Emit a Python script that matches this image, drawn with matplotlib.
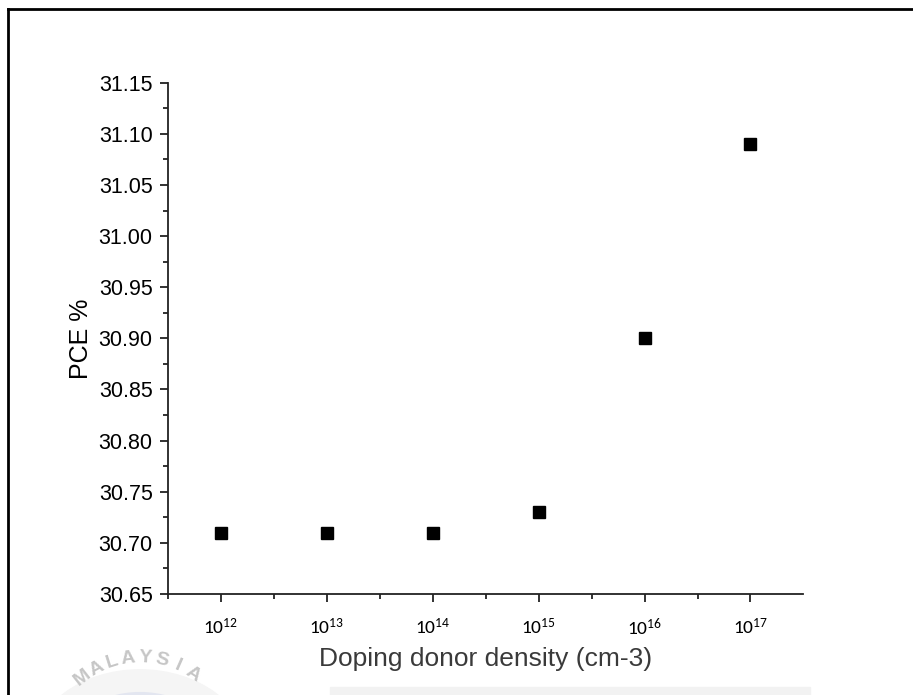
import numpy as np
import matplotlib.pyplot as plt
from matplotlib.lines import Line2D
from matplotlib.patches import Circle, Rectangle

# 数据
exponents = [12, 13, 14, 15, 16, 17]
pce = [30.71, 30.71, 30.71, 30.73, 30.90, 31.09]
tick_labels = ['$10^{12}$', '$10^{13}$', '$10^{14}$', '$10^{15}$', '$10^{16}$', '$10^{17}$']

plt.rcParams['font.family'] = ['Liberation Sans', 'DejaVu Sans']
plt.rcParams['mathtext.fontset'] = 'custom'
plt.rcParams['mathtext.rm'] = 'Carlito'
plt.rcParams['mathtext.it'] = 'Carlito'

fig = plt.figure(figsize=(9.13, 6.95), dpi=100)
ax = fig.add_axes([0.184, 0.1453, 0.696, 0.7357])

density = [10.0 ** e for e in exponents]
ax.plot(density, pce, 's', color='black', markersize=8.5, linestyle='none', zorder=3)

ax.set_xscale('log')
ax.set_xlim(10 ** 11.5, 10 ** 17.5)
ax.set_xticks(density)
ax.set_xticklabels(tick_labels, fontsize=14)
ax.set_xticks([10 ** (e + 0.5) for e in range(11, 17)], minor=True)
ax.xaxis.set_minor_formatter(plt.NullFormatter())

yt = np.arange(30.65, 31.151, 0.05)
ax.set_ylim(30.65, 31.15)
ax.set_yticks(yt)
ax.set_yticklabels([f'{v:.2f}' for v in yt], fontsize=15.5)
ax.set_yticks(np.arange(30.675, 31.15, 0.05), minor=True)

for s in ['top', 'right']:
    ax.spines[s].set_visible(False)
for s in ['left', 'bottom']:
    ax.spines[s].set_linewidth(1.3)
    ax.spines[s].set_color('#222222')

ax.tick_params(axis='both', which='major', direction='out', length=6, width=1.3, color='#222222')
ax.tick_params(axis='both', which='minor', direction='out', length=3.5, width=1.3, color='#222222')
ax.tick_params(axis='x', which='major', pad=11)
ax.tick_params(axis='y', which='major', pad=5)

ax.set_xlabel('Doping donor density (cm-3)', fontsize=19, color='#3a3a3a', labelpad=6)
ax.set_ylabel('PCE %', fontsize=18, labelpad=4)

# 外框（图片边框）
fig.add_artist(Line2D([8 / 913, 8 / 913], [0, 1 - 9 / 695], transform=fig.transFigure, color='black', lw=2))
fig.add_artist(Line2D([8 / 913, 1], [1 - 9 / 695, 1 - 9 / 695], transform=fig.transFigure, color='black', lw=2))

# 水印（淡色校徽）
cx, cy = 140, 752
fig.add_artist(Circle((cx / 913, 1 - cy / 695), 108 / 913, transform=fig.transFigure,
                      color='#f5f5f5', zorder=0))
fig.add_artist(Circle((cx / 913, 1 - cy / 695), 78 / 913, transform=fig.transFigure,
                      color='#e3e6f0', zorder=0))
for i, ch in enumerate('MALAYSIA'):
    ang = np.deg2rad(128 - i * 10.3)
    px, py = cx + 94 * np.cos(ang), cy - 94 * np.sin(ang)
    fig.text(px / 913, 1 - py / 695, ch, fontsize=14, fontweight='bold', color='#c6c6c6',
             ha='center', va='center', rotation=np.rad2deg(ang) - 90)
fig.add_artist(Rectangle((330 / 913, 0), 480 / 913, 8 / 695, transform=fig.transFigure,
                         color='#f2f2f2', zorder=0))

plt.savefig('out.png', dpi=100)
